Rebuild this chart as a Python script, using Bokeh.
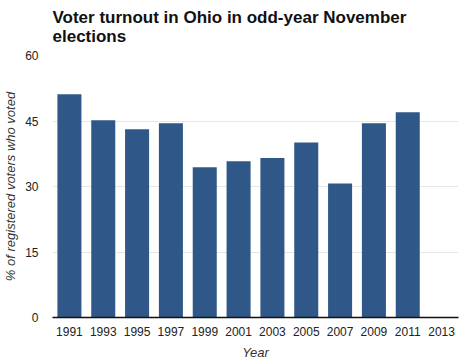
from bokeh.plotting import figure
from bokeh.models import FixedTicker, Range1d, FactorRange
from bokeh.embed import file_html
from bokeh.resources import INLINE

years = ["1991", "1993", "1995", "1997", "1999", "2001", "2003", "2005", "2007", "2009", "2011", "2013"]
turnout = [51.1, 45.2, 43.1, 44.5, 34.4, 35.8, 36.5, 40.1, 30.7, 44.5, 47.0, float("nan")]
y_ticks = [0, 15, 30, 45, 60]

FONT = "Liberation Sans"
W, H = 462, 362

p = figure(width=W, height=H, x_range=FactorRange(*years, range_padding=0),
           y_range=Range1d(0, 60), output_backend="svg", toolbar_location=None,
           title="Voter turnout in Ohio in odd-year November\nelections")

p.vbar(x=years, top=turnout, width=0.71, color="#2f5889", line_color=None)

p.title.text_font = FONT
p.title.text_font_size = "17px"
p.title.text_font_style = "bold"
p.title.text_color = "#111111"
p.title.text_line_height = 1.05
p.title.align = "left"
p.title.vertical_align = "top"
p.title.standoff = 14

p.outline_line_color = None
p.xgrid.grid_line_color = None
p.ygrid.grid_line_color = "#e6e6e6"
p.ygrid.grid_line_width = 1

p.yaxis.ticker = FixedTicker(ticks=y_ticks)
p.yaxis.axis_line_color = None
p.yaxis.major_tick_line_color = None
p.yaxis.minor_tick_line_color = None
p.yaxis.major_label_standoff = 8
p.yaxis.axis_label = "% of registered voters who voted"
p.yaxis.axis_label_standoff = 4

p.xaxis.axis_line_color = "#111111"
p.xaxis.axis_line_width = 1.5
p.xaxis.major_tick_line_color = None
p.xaxis.minor_tick_line_color = None
p.xaxis.major_label_standoff = 3
p.xaxis.axis_label = "Year"
p.xaxis.axis_label_standoff = 6

for ax in (p.xaxis, p.yaxis):
    ax.major_label_text_font = FONT
    ax.major_label_text_font_size = "12px"
    ax.major_label_text_color = "#222222"
    ax.axis_label_text_font = FONT
    ax.axis_label_text_font_size = "13px"
    ax.axis_label_text_font_style = "italic"
    ax.axis_label_text_color = "#333333"

p.min_border_left = 0
p.min_border_right = 4
p.min_border_top = 0
p.min_border_bottom = 0

open("out.html", "w").write(file_html(p, INLINE))
